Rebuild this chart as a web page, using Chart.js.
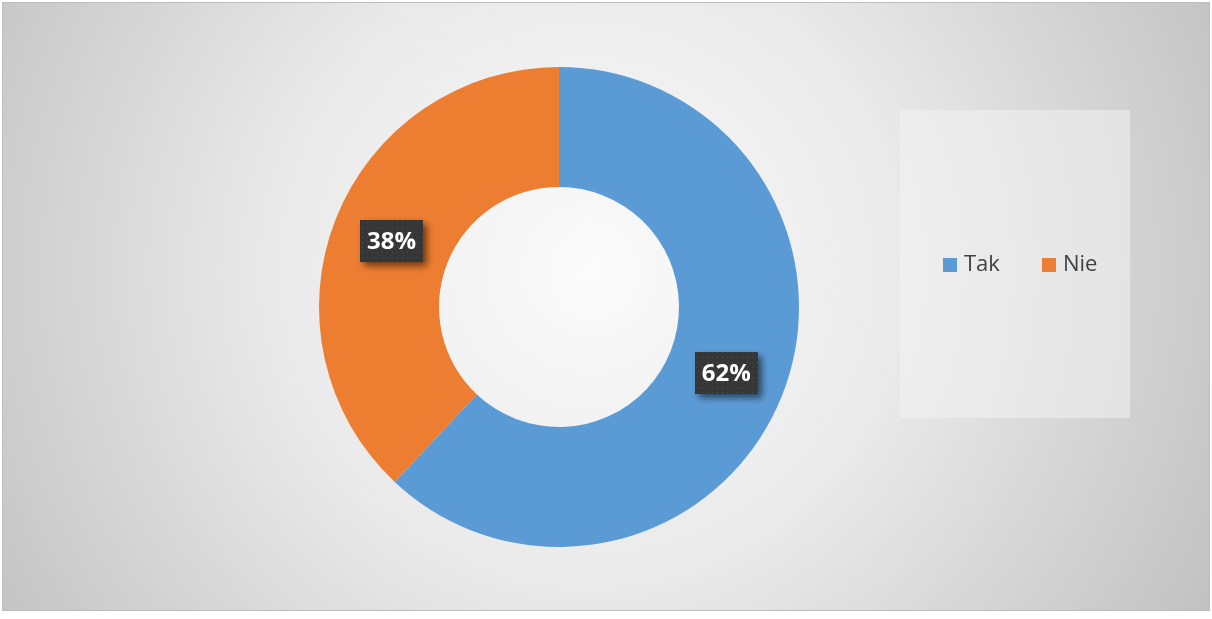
<!DOCTYPE html>
<html>
<head>
<meta charset="utf-8">
<script src="https://cdn.jsdelivr.net/npm/chart.js@4/dist/chart.umd.min.js"></script>
<style>
  html, body { margin: 0; padding: 0; background: #fff; }
  #wrap { width: 1212px; height: 619px; position: relative; }
</style>
</head>
<body>
<div id="wrap"><canvas id="chart" width="1212" height="619"></canvas></div>
<script>
const labels = ["Tak", "Nie"];
const values = [62, 38];
const colors = ["#5b9bd5", "#ed7d31"];

// dark dotted fill for the data label boxes
function dotPattern(ctx) {
  const c = document.createElement("canvas");
  c.width = 5; c.height = 5;
  const p = c.getContext("2d");
  p.fillStyle = "#363636";
  p.fillRect(0, 0, 5, 5);
  p.fillStyle = "#4e4e4e";
  p.fillRect(2, 2, 1, 1);
  return ctx.createPattern(c, "repeat");
}

const backdrop = {
  id: "backdrop",
  beforeDraw(chart) {
    const ctx = chart.ctx;
    ctx.save();
    ctx.fillStyle = "#fff";
    ctx.fillRect(0, 0, chart.width, chart.height);
    const g = ctx.createRadialGradient(590, 270, 0, 590, 270, 720);
    g.addColorStop(0, "#fbfbfb");
    g.addColorStop(0.45, "#e9e9e9");
    g.addColorStop(1, "#c0c0c0");
    ctx.fillStyle = g;
    ctx.fillRect(2, 2, 1207, 608);
    ctx.strokeStyle = "#bdbdbd";
    ctx.lineWidth = 1;
    ctx.strokeRect(2.5, 2.5, 1207, 608);

    // legend panel
    ctx.fillStyle = "rgba(242,242,242,0.55)";
    ctx.fillRect(900, 110, 230, 308);
    ctx.restore();
  },
  afterDraw(chart) {
    const ctx = chart.ctx;
    ctx.save();

    // legend entries
    ctx.font = "22px 'Open Sans', 'Noto Sans', sans-serif";
    ctx.textBaseline = "middle";
    const lx = [943, 1042];
    labels.forEach((l, i) => {
      ctx.fillStyle = colors[i];
      ctx.fillRect(lx[i], 258, 14, 14);
      ctx.fillStyle = "#404040";
      ctx.fillText(l, lx[i] + 21, 265);
    });

    // data labels
    const meta = chart.getDatasetMeta(0);
    const total = values.reduce((a, b) => a + b, 0);
    const pat = dotPattern(ctx);
    ctx.font = "bold 24px 'Open Sans', 'Noto Sans', sans-serif";
    ctx.textAlign = "center";
    meta.data.forEach((arc, i) => {
      const pos = arc.tooltipPosition();
      const txt = Math.round(values[i] / total * 100) + "%";
      const w = 63, h = 42;
      const x = Math.round(pos.x - w / 2), y = Math.round(pos.y - h / 2);
      ctx.save();
      ctx.shadowColor = "rgba(0,0,0,0.55)";
      ctx.shadowBlur = 7;
      ctx.shadowOffsetX = 4;
      ctx.shadowOffsetY = 4;
      ctx.fillStyle = pat;
      ctx.fillRect(x, y, w, h);
      ctx.restore();
      ctx.fillStyle = "#ffffff";
      ctx.fillText(txt, pos.x, pos.y + 1);
    });
    ctx.restore();
  }
};

new Chart(document.getElementById("chart").getContext("2d"), {
  type: "doughnut",
  data: {
    labels,
    datasets: [{
      data: values,
      backgroundColor: colors,
      borderWidth: 0
    }]
  },
  options: {
    responsive: false,
    animation: false,
    cutout: "50%",
    layout: { padding: { left: 319, right: 413, top: 67, bottom: 72 } },
    plugins: {
      legend: { display: false },
      tooltip: { enabled: false }
    }
  },
  plugins: [backdrop]
});
</script>
</body>
</html>
